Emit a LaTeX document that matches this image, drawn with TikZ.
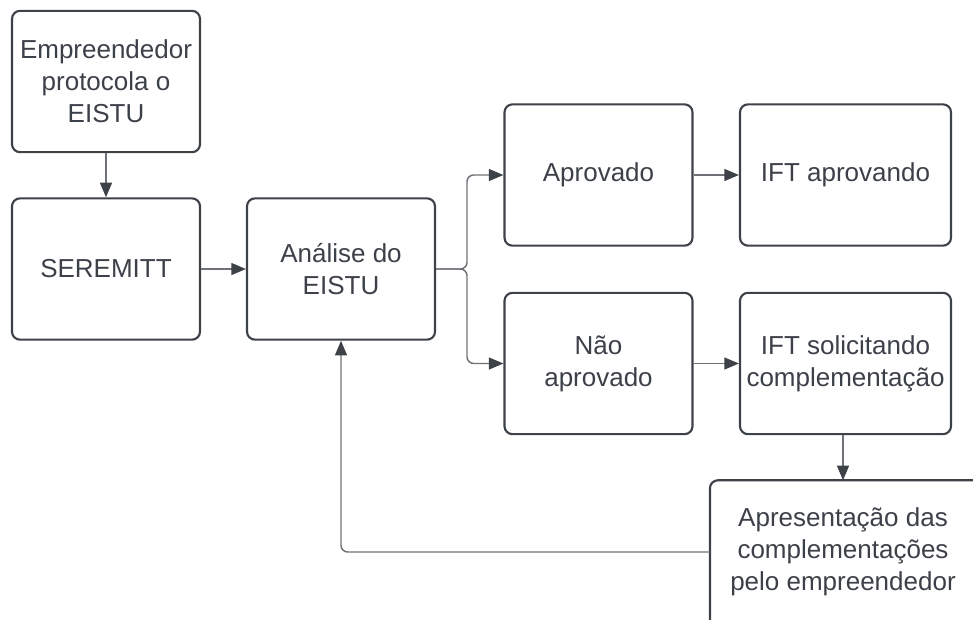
\documentclass[tikz,border=0pt]{standalone}
\usepackage{fontspec}
\setmainfont{Liberation Sans}
\usetikzlibrary{arrows.meta}
\definecolor{txt}{HTML}{3C4048}
\definecolor{bord}{HTML}{3D4148}
\definecolor{conn}{HTML}{6E7278}
\begin{document}
\begin{tikzpicture}[x=0.75pt,y=-0.75pt,
  boxline/.style={draw=bord,line width=1.6pt,rounded corners=6pt},
  box/.style={boxline,align=center,
    text=txt,font=\fontsize{19.5pt}{24pt}\selectfont,inner sep=0pt,
    minimum width=141pt,minimum height=106pt},
  wide/.style={box,minimum width=158.25pt},
  link/.style={draw=conn,line width=1.1pt,rounded corners=5pt,
    -{Triangle[length=11pt,width=9pt,fill=bord,color=bord]}}]
\clip (0,0) rectangle (973,619);
\node[box] (ent) at (106,81.5) {Empreendedor\\protocola o\\EISTU};
\node[box] (ser) at (106,269) {SEREMITT};
\node[box] (ana) at (341,269) {Análise do\\EISTU};
\node[box] (apr) at (598.5,175) {Aprovado};
\node[wide] (ifta) at (845.5,175) {IFT aprovando};
\node[box] (nao) at (598.5,363.5) {Não\\aprovado};
\node[wide] (ifts) at (845.5,363.5) {IFT solicitando\\complementação};
\node[box,draw=none,minimum width=198pt] (apre) at (843,552) {Apresentação das\\complementações\\pelo empreendedor};
\draw[boxline] (apre.north west) rectangle (1000,660);
\coordinate (fork) at (467,269);
\draw[link] (ent) -- (ser);
\draw[link] (ser) -- (ana);
\draw[link] (ana.east) -- (fork) |- (apr.west);
\draw[link] (ana.east) -- (fork) |- (nao.west);
\draw[link] (apr) -- (ifta);
\draw[link] (nao) -- (ifts);
\draw[link] (ifts.south -| apre.north) -- (apre.north);
\draw[link] (apre.west) -| (ana.south);
\end{tikzpicture}
\end{document}
